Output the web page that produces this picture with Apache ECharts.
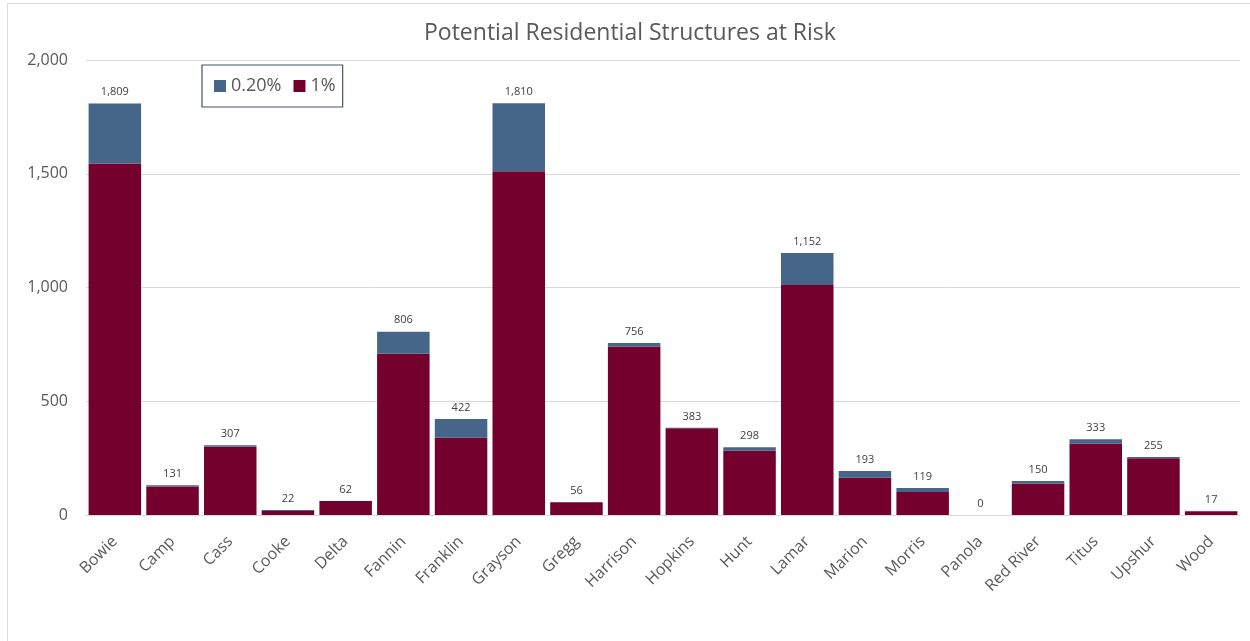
<!DOCTYPE html>
<html>
<head>
<meta charset="utf-8">
<script src="https://cdn.jsdelivr.net/npm/echarts@6/dist/echarts.min.js"></script>
<style>
  html, body { margin: 0; padding: 0; background: #ffffff; }
  #chart { width: 1250px; height: 641px; }
</style>
</head>
<body>
<div id="chart"></div>
<script>
// Counties along the category axis
const counties = ['Bowie', 'Camp', 'Cass', 'Cooke', 'Delta', 'Fannin', 'Franklin', 'Grayson', 'Gregg', 'Harrison',
  'Hopkins', 'Hunt', 'Lamar', 'Marion', 'Morris', 'Panola', 'Red River', 'Titus', 'Upshur', 'Wood'];

// Structures in the 1% annual chance floodplain
const onePercent = [1545, 125, 300, 18, 62, 709, 340, 1511, 56, 741, 381, 282, 1011, 164, 101, 0, 138, 314, 250, 16];

// Additional structures in the 0.2% annual chance floodplain
const pointTwoPercent = [264, 6, 7, 4, 0, 97, 82, 299, 0, 15, 2, 16, 141, 29, 18, 0, 12, 19, 5, 1];

// Value axis ticks
const yMin = 0, yMax = 2000, yStep = 500;

const fontFam = '"Open Sans", "Liberation Sans", sans-serif';
const fmt = v => v.toLocaleString('en-US');

const chart = echarts.init(document.getElementById('chart'), null, { renderer: 'canvas' });

chart.setOption({
  animation: false,
  backgroundColor: '#ffffff',
  title: {
    text: 'Potential Residential Structures at Risk',
    left: 419,
    top: 17,
    textStyle: { fontFamily: fontFam, fontSize: 23, fontWeight: 'normal', color: '#595959' }
  },
  legend: {
    left: 202,
    top: 65,
    data: ['0.20%', '1%'],
    icon: 'rect',
    itemWidth: 12,
    itemHeight: 12,
    itemGap: 12,
    padding: [12, 7, 12, 12],
    borderColor: '#44546a',
    borderWidth: 1.2,
    textStyle: { fontFamily: fontFam, fontSize: 18, color: '#595959' }
  },
  grid: { left: 86, right: 10, top: 60, bottom: 126, containLabel: false },
  xAxis: {
    type: 'category',
    data: counties,
    axisLine: { lineStyle: { color: '#d9d9d9', width: 1 } },
    axisTick: { show: false },
    axisLabel: {
      rotate: 45,
      interval: 0,
      margin: 24,
      fontFamily: fontFam,
      fontSize: 16,
      color: '#595959'
    }
  },
  yAxis: {
    type: 'value',
    min: yMin,
    max: yMax,
    interval: yStep,
    axisLine: { show: false },
    axisTick: { show: false },
    splitLine: { lineStyle: { color: '#d9d9d9', width: 1 } },
    axisLabel: {
      margin: 18,
      fontFamily: fontFam,
      fontSize: 16,
      color: '#595959',
      formatter: v => fmt(v)
    }
  },
  series: [
    {
      name: '1%',
      type: 'bar',
      stack: 'risk',
      barCategoryGap: '9%',
      data: onePercent,
      itemStyle: { color: '#74002e' }
    },
    {
      name: '0.20%',
      type: 'bar',
      stack: 'risk',
      barCategoryGap: '9%',
      data: pointTwoPercent,
      itemStyle: { color: '#456589' },
      label: {
        show: true,
        position: 'top',
        distance: 6,
        fontFamily: fontFam,
        fontSize: 11,
        color: '#404040',
        formatter: p => fmt(onePercent[p.dataIndex] + pointTwoPercent[p.dataIndex])
      }
    }
  ],
  graphic: [
    {
      type: 'rect',
      silent: true,
      shape: { x: 7.5, y: 3.5, width: 1260, height: 660 },
      style: { fill: 'none', stroke: '#d9d9d9', lineWidth: 1 }
    }
  ]
});
</script>
</body>
</html>
